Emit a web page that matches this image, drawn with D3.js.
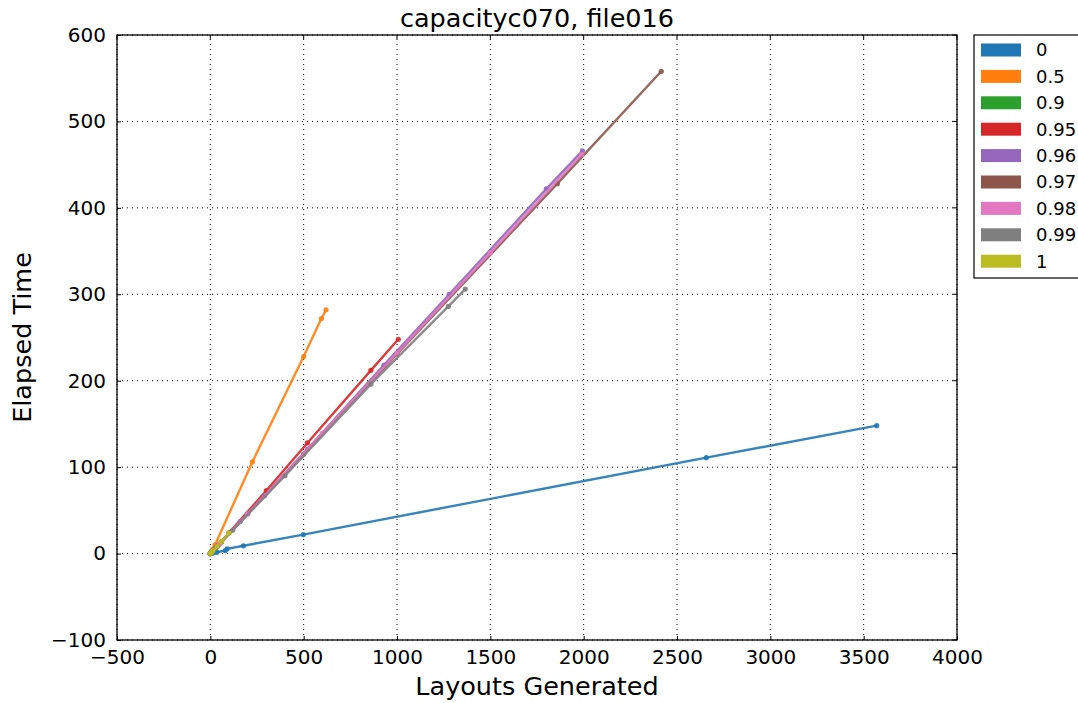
<!DOCTYPE html>
<html>
<head>
<meta charset="utf-8">
<script src="https://cdn.jsdelivr.net/npm/d3@7"></script>
<style>
body { margin: 0; background: #fff; }
text { font-family: "DejaVu Sans", sans-serif; fill: #000; }
</style>
</head>
<body>
<div id="chart"></div>
<script>
var width = 1078;
var height = 703;
var margin = {left: 117, right: 121, top: 35, bottom: 63};

var series_names = ["0", "0.5", "0.9", "0.95", "0.96", "0.97", "0.98", "0.99", "1"];
var series_colors = ["#1f77b4", "#ff7f0e", "#2ca02c", "#d62728", "#9467bd", "#8c564b", "#e377c2", "#7f7f7f", "#bcbd22"];

// [layouts generated, elapsed time]
var s_0 = [[0, 0], [15, 0.6], [35, 1.5], [80, 3.5], [90, 5.5], [177, 9], [498, 22], [2657, 111], [3570, 148]];
var s_05 = [[0, 0], [5, 2], [12, 5], [25, 10], [225, 106], [500, 228], [595, 272], [620, 282]];
var s_09 = [[0, 0], [5, 1], [12, 3], [25, 6], [40, 9]];
var s_095 = [[0, 0], [10, 2.5], [30, 7], [100, 24], [300, 73], [520, 128], [860, 212], [1007, 248]];
var s_096 = [[0, 0], [10, 2.4], [40, 9], [160, 37], [290, 67], [520, 121], [930, 218], [1280, 300], [1800, 422], [1993, 466]];
var s_097 = [[0, 0], [15, 3.5], [60, 13.5], [200, 46], [500, 115], [1000, 231], [1859, 428], [2416, 558]];
var s_098 = [[0, 0], [12, 3], [50, 11.5], [200, 46], [600, 139], [1000, 232], [1500, 348], [1990, 462]];
var s_099 = [[0, 0], [8, 2], [30, 7], [120, 27], [400, 90], [860, 196], [1275, 286], [1366, 306]];
var s_1 = [[0, 0], [5, 1.2], [15, 3.5], [35, 8], [60, 14], [100, 24]];
var all_series = [s_0, s_05, s_09, s_095, s_096, s_097, s_098, s_099, s_1];

var x_ticks = [-500, 0, 500, 1000, 1500, 2000, 2500, 3000, 3500, 4000];
var y_ticks = [-100, 0, 100, 200, 300, 400, 500, 600];

var svg = d3.select("#chart").append("svg")
    .attr("width", width)
    .attr("height", height);

var x = d3.scaleLinear().domain([-500, 4000]).range([margin.left, width - margin.right]);
var y = d3.scaleLinear().domain([-100, 600]).range([height - margin.bottom, margin.top]);

// grid
var grid = svg.append("g");
grid.selectAll(".vgrid").data(x_ticks).enter().append("line")
    .attr("x1", function (d) { return x(d); })
    .attr("x2", function (d) { return x(d); })
    .attr("y1", y(-100)).attr("y2", y(600))
    .attr("stroke", "#000").attr("stroke-width", 1)
    .attr("stroke-dasharray", "1,4");
grid.selectAll(".hgrid").data(y_ticks).enter().append("line")
    .attr("y1", function (d) { return y(d); })
    .attr("y2", function (d) { return y(d); })
    .attr("x1", x(-500)).attr("x2", x(4000))
    .attr("stroke", "#000").attr("stroke-width", 1)
    .attr("stroke-dasharray", "1,4");

// axes
var fmt = function (d) { return d < 0 ? "\u2212" + Math.abs(d) : "" + d; };
var xAxis = svg.append("g")
    .attr("transform", "translate(0," + y(-100) + ")")
    .call(d3.axisBottom(x).tickValues(x_ticks).tickFormat(fmt).tickSize(-4).tickPadding(8));
var yAxis = svg.append("g")
    .attr("transform", "translate(" + x(-500) + ",0)")
    .call(d3.axisLeft(y).tickValues(y_ticks).tickFormat(fmt).tickSize(-4).tickPadding(11));
[xAxis, yAxis].forEach(function (a) {
    a.select(".domain").remove();
    a.selectAll("text").attr("font-size", 20).style("font-family", "DejaVu Sans");
});
xAxis.selectAll("text").attr("dy", "0.8em");

// top/right ticks
svg.append("g").selectAll("line").data(x_ticks).enter().append("line")
    .attr("x1", function (d) { return x(d); }).attr("x2", function (d) { return x(d); })
    .attr("y1", y(600)).attr("y2", y(600) + 4).attr("stroke", "#000");
svg.append("g").selectAll("line").data(y_ticks).enter().append("line")
    .attr("y1", function (d) { return y(d); }).attr("y2", function (d) { return y(d); })
    .attr("x1", x(4000)).attr("x2", x(4000) - 4).attr("stroke", "#000");

// lines
var line = d3.line()
    .x(function (d) { return x(d[0]); })
    .y(function (d) { return y(d[1]); });

var plot = svg.append("g");
all_series.forEach(function (s, i) {
    plot.append("path")
        .datum(s)
        .attr("d", line)
        .attr("fill", "none")
        .attr("stroke", series_colors[i])
        .attr("stroke-width", 2.4)
        .attr("opacity", 0.9);
    plot.selectAll(".pt" + i).data(s).enter().append("circle")
        .attr("cx", function (d) { return x(d[0]); })
        .attr("cy", function (d) { return y(d[1]); })
        .attr("r", 2.6)
        .attr("fill", series_colors[i])
        .attr("opacity", 0.9);
});

// frame
svg.append("rect")
    .attr("x", x(-500)).attr("y", y(600))
    .attr("width", x(4000) - x(-500)).attr("height", y(-100) - y(600))
    .attr("fill", "none").attr("stroke", "#000").attr("stroke-width", 1.3);

// title & labels
var cx = (x(-500) + x(4000)) / 2;
svg.append("text")
    .attr("x", cx).attr("y", 27)
    .attr("text-anchor", "middle").attr("font-size", 25.5)
    .text("capacityc070, file016");
svg.append("text")
    .attr("x", cx).attr("y", 695)
    .attr("text-anchor", "middle").attr("font-size", 25.5)
    .text("Layouts Generated");
svg.append("text")
    .attr("transform", "translate(31," + ((y(-100) + y(600)) / 2) + ") rotate(-90)")
    .attr("text-anchor", "middle").attr("font-size", 25.5)
    .text("Elapsed Time");

// legend
var legend = svg.append("g").attr("transform", "translate(974,35)");
legend.append("rect")
    .attr("x", 0).attr("y", 0).attr("width", 110).attr("height", 243)
    .attr("fill", "#fff").attr("stroke", "#000").attr("stroke-width", 1.2);
var items = legend.selectAll(".item").data(series_names).enter().append("g")
    .attr("transform", function (d, i) { return "translate(0," + (15 + i * 26.4) + ")"; });
items.append("rect")
    .attr("x", 7).attr("y", -6.5).attr("width", 40).attr("height", 13)
    .attr("fill", function (d, i) { return series_colors[i]; });
items.append("text")
    .attr("x", 62)
    .attr("dy", "0.35em")
    .attr("font-size", 18)
    .text(function (d) { return d; });
</script>
</body>
</html>
